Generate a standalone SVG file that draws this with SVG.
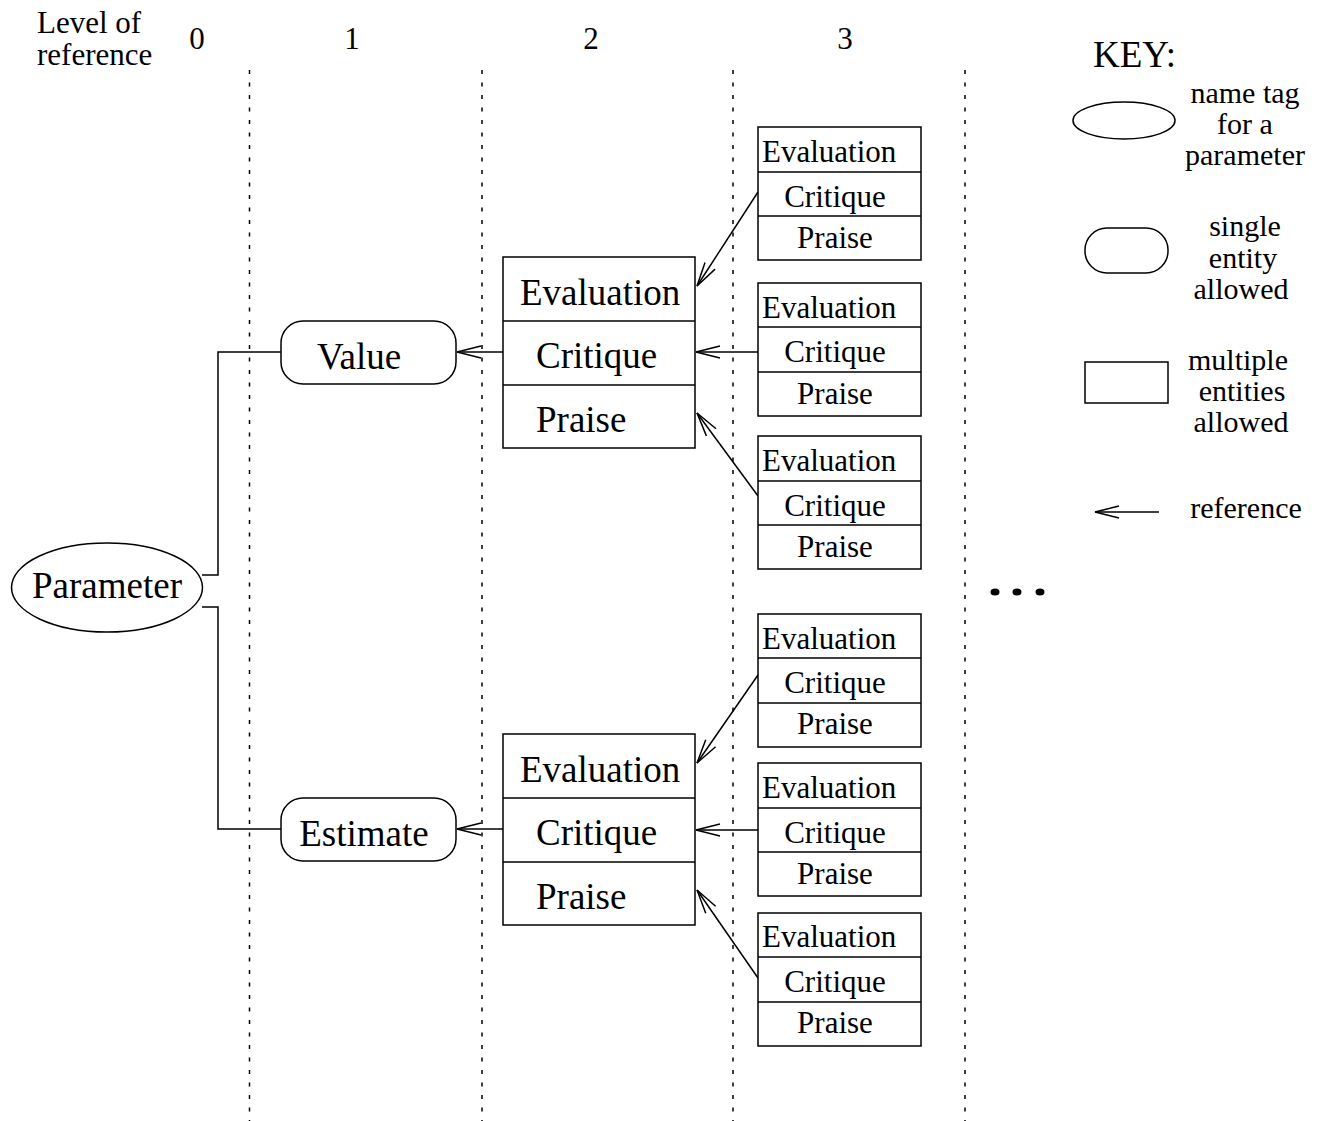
<svg xmlns="http://www.w3.org/2000/svg" width="1325" height="1121" viewBox="0 0 1325 1121">
<style>
text{font-family:"Liberation Serif","Times New Roman",serif;fill:#000}
.s{font-size:31px}
.k{font-size:30px}
.l{font-size:37px}
.m{text-anchor:middle}
.shape{fill:#fff;stroke:#000;stroke-width:1.5}
.ln{fill:none;stroke:#000;stroke-width:1.5}
.dot{fill:none;stroke:#000;stroke-width:1.5;stroke-dasharray:4 8.5}
.arr{fill:none;stroke:#000;stroke-width:1.5;marker-end:url(#ah)}
</style>
<defs>
<marker id="ah" markerUnits="userSpaceOnUse" orient="auto" refX="0" refY="0" markerWidth="30" markerHeight="16" viewBox="-27 -8 30 16" overflow="visible">
<path d="M-24,-6 L0,0 L-24,6" fill="none" stroke="#000" stroke-width="1.5"/>
</marker>
</defs>
<rect width="1325" height="1121" fill="#fff"/>
<g id="header">
<text class="s" x="37" y="33">Level of</text>
<text class="s" x="37" y="65">reference</text>
<text class="s m" x="197" y="49">0</text>
<text class="s m" x="352" y="49">1</text>
<text class="s m" x="591" y="49">2</text>
<text class="s m" x="845" y="49">3</text>
</g>
<g id="level-lines">
<line class="dot" x1="249.5" y1="70" x2="249.5" y2="1121"/>
<line class="dot" x1="482" y1="70" x2="482" y2="1121"/>
<line class="dot" x1="733" y1="70" x2="733" y2="1121"/>
<line class="dot" x1="965" y1="70" x2="965" y2="1121"/>
</g>
<g id="connectors">
<path class="ln" d="M202,575 H218 V352 H282"/>
<path class="ln" d="M202,607 H218 V829 H282"/>
<line class="arr" x1="503" y1="352" x2="457" y2="352"/>
<line class="arr" x1="503" y1="829" x2="457" y2="829"/>
<line class="arr" x1="758" y1="192" x2="697" y2="286"/>
<line class="arr" x1="758" y1="352" x2="696" y2="352"/>
<line class="arr" x1="758" y1="496" x2="697" y2="413"/>
<line class="arr" x1="758" y1="675" x2="697" y2="763"/>
<line class="arr" x1="758" y1="830" x2="696" y2="830"/>
<line class="arr" x1="758" y1="978" x2="697" y2="890"/>
</g>
<g id="parameter">
<ellipse class="shape" cx="107" cy="587.5" rx="95.5" ry="44.5"/>
<text class="l m" x="107" y="598">Parameter</text>
</g>
<g id="value">
<rect class="shape" x="281" y="321" width="175" height="63" rx="22"/>
<text class="l m" x="359" y="369">Value</text>
</g>
<g id="estimate">
<rect class="shape" x="281" y="798" width="175" height="63" rx="22"/>
<text class="l m" x="364" y="846">Estimate</text>
</g>
<g id="value-ecp">
<rect class="shape" x="503" y="257" width="192" height="191"/>
<line class="ln" x1="503" y1="321" x2="695" y2="321"/>
<line class="ln" x1="503" y1="385" x2="695" y2="385"/>
<text class="l" x="520" y="305">Evaluation</text>
<text class="l" x="536" y="368">Critique</text>
<text class="l" x="536" y="432">Praise</text>
</g>
<g id="estimate-ecp">
<rect class="shape" x="503" y="734" width="192" height="191"/>
<line class="ln" x1="503" y1="798" x2="695" y2="798"/>
<line class="ln" x1="503" y1="862" x2="695" y2="862"/>
<text class="l" x="520" y="782">Evaluation</text>
<text class="l" x="536" y="845">Critique</text>
<text class="l" x="536" y="909">Praise</text>
</g>
<g id="l3-a1">
<rect class="shape" x="758" y="127" width="163" height="133"/>
<line class="ln" x1="758" y1="172" x2="921" y2="172"/>
<line class="ln" x1="758" y1="216" x2="921" y2="216"/>
<text class="s" x="762" y="162">Evaluation</text>
<text class="s m" x="835" y="207">Critique</text>
<text class="s m" x="835" y="248">Praise</text>
</g>
<g id="l3-a2">
<rect class="shape" x="758" y="283" width="163" height="133"/>
<line class="ln" x1="758" y1="327" x2="921" y2="327"/>
<line class="ln" x1="758" y1="372" x2="921" y2="372"/>
<text class="s" x="762" y="318">Evaluation</text>
<text class="s m" x="835" y="362">Critique</text>
<text class="s m" x="835" y="404">Praise</text>
</g>
<g id="l3-a3">
<rect class="shape" x="758" y="436" width="163" height="133"/>
<line class="ln" x1="758" y1="481" x2="921" y2="481"/>
<line class="ln" x1="758" y1="525" x2="921" y2="525"/>
<text class="s" x="762" y="471">Evaluation</text>
<text class="s m" x="835" y="516">Critique</text>
<text class="s m" x="835" y="557">Praise</text>
</g>
<g id="l3-b1">
<rect class="shape" x="758" y="614" width="163" height="133"/>
<line class="ln" x1="758" y1="658" x2="921" y2="658"/>
<line class="ln" x1="758" y1="703" x2="921" y2="703"/>
<text class="s" x="762" y="649">Evaluation</text>
<text class="s m" x="835" y="693">Critique</text>
<text class="s m" x="835" y="734">Praise</text>
</g>
<g id="l3-b2">
<rect class="shape" x="758" y="763" width="163" height="133"/>
<line class="ln" x1="758" y1="808" x2="921" y2="808"/>
<line class="ln" x1="758" y1="852" x2="921" y2="852"/>
<text class="s" x="762" y="798">Evaluation</text>
<text class="s m" x="835" y="843">Critique</text>
<text class="s m" x="835" y="884">Praise</text>
</g>
<g id="l3-b3">
<rect class="shape" x="758" y="913" width="163" height="133"/>
<line class="ln" x1="758" y1="957" x2="921" y2="957"/>
<line class="ln" x1="758" y1="1002" x2="921" y2="1002"/>
<text class="s" x="762" y="947">Evaluation</text>
<text class="s m" x="835" y="992">Critique</text>
<text class="s m" x="835" y="1033">Praise</text>
</g>
<g id="ellipsis">
<ellipse cx="995" cy="592" rx="4.5" ry="3.5"/>
<ellipse cx="1017" cy="592" rx="4.5" ry="3.5"/>
<ellipse cx="1040" cy="592" rx="4.5" ry="3.5"/>
</g>
<g id="key">
<text class="l" x="1093" y="67">KEY:</text>
<ellipse class="shape" cx="1124" cy="120.5" rx="51" ry="18.5"/>
<text class="k m" x="1245" y="103">name tag</text>
<text class="k m" x="1245" y="134">for a</text>
<text class="k m" x="1245" y="165">parameter</text>
<rect class="shape" x="1085" y="228" width="83" height="45" rx="22"/>
<text class="k m" x="1245" y="236">single</text>
<text class="k m" x="1243" y="268">entity</text>
<text class="k m" x="1241" y="299">allowed</text>
<rect class="shape" x="1085" y="362" width="83" height="41"/>
<text class="k m" x="1238" y="370">multiple</text>
<text class="k m" x="1242" y="401">entities</text>
<text class="k m" x="1241" y="432">allowed</text>
<line class="arr" x1="1159" y1="512" x2="1095" y2="512"/>
<text class="k m" x="1246" y="518">reference</text>
</g>
</svg>
